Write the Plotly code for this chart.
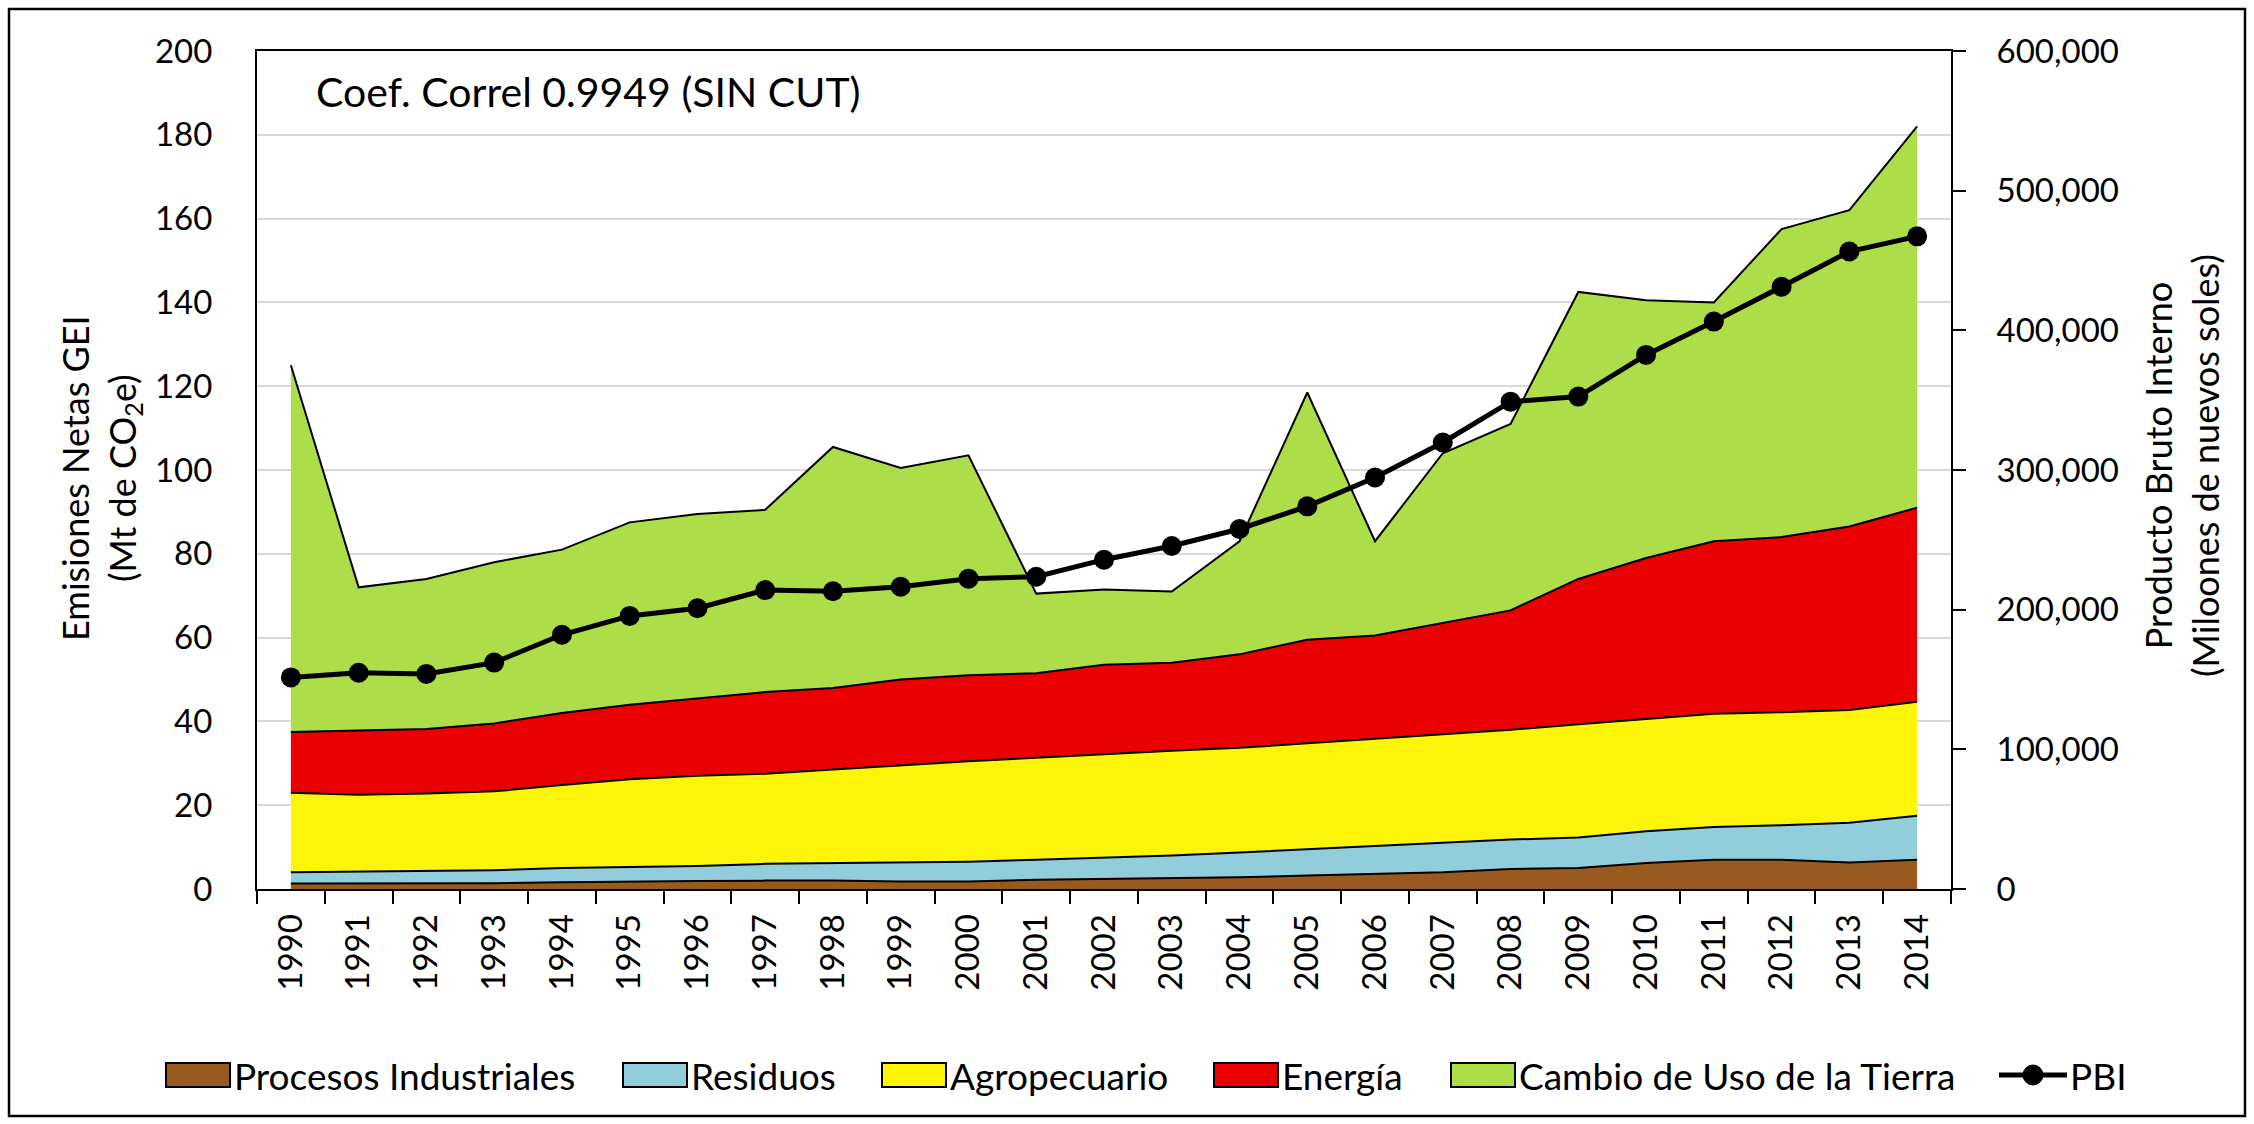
import plotly.graph_objects as go

years = [str(y) for y in range(1990, 2015)]

# emissions by sector (Mt CO2e), stacked
procesos = [1.3, 1.3, 1.3, 1.4, 1.6, 1.8, 1.9, 2.0, 2.0, 1.8, 1.8, 2.2, 2.4, 2.5, 2.8,
            3.2, 3.6, 4.0, 4.8, 5.0, 6.2, 7.0, 7.0, 6.3, 7.0]
residuos = [2.7, 2.9, 3.0, 3.1, 3.4, 3.5, 3.6, 4.0, 4.2, 4.5, 4.7, 4.8, 5.1, 5.5, 5.9,
            6.3, 6.7, 7.0, 7.0, 7.3, 7.6, 7.8, 8.2, 9.5, 10.5]
agropecuario = [19.0, 18.3, 18.5, 18.8, 19.8, 20.9, 21.5, 21.5, 22.3, 23.2, 24.0, 24.3, 24.7,
                25.0, 25.0, 25.3, 25.5, 26.0, 26.2, 27.0, 26.7, 27.0, 27.0, 26.9, 27.2]
energia = [14.5, 15.3, 15.4, 16.2, 17.2, 17.8, 18.5, 19.5, 19.5, 20.5, 20.5, 20.2, 21.3,
           21.0, 22.3, 24.7, 24.7, 26.5, 28.5, 34.7, 38.5, 41.2, 41.8, 43.8, 46.3]
cambio_uso = [87.5, 34.2, 35.8, 38.5, 39.0, 43.5, 44.0, 43.5, 57.5, 50.5, 52.5, 19.0, 18.0,
              17.0, 27.0, 59.0, 22.5, 40.5, 44.5, 68.5, 61.5, 57.0, 73.5, 75.5, 91.0]

# PBI (millones de nuevos soles)
pbi = [151492, 154854, 154017, 162093, 182044, 195536, 201009, 214028, 213190, 216377,
       222207, 223580, 235773, 245593, 257770, 273971, 294598, 319693, 348923, 352584,
       382380, 406256, 431199, 456435, 467308]

series_names = ["Procesos Industriales", "Residuos", "Agropecuario", "Energía",
                "Cambio de Uso de la Tierra"]
series_colors = ["#985A1E", "#92CDDC", "#FCF50A", "#EA0000", "#ADDD48"]
series_values = [procesos, residuos, agropecuario, energia, cambio_uso]

FONT = "Lato, 'Open Sans', sans-serif"
W, H = 2254, 1124
L, R, T, B = 257, 1951, 51, 889


def px(x):
    return (x - L) / (R - L)


def py(y):
    return (B - y) / (B - T)


fig = go.Figure()

for name, color, vals in zip(series_names, series_colors, series_values):
    fig.add_trace(go.Scatter(
        x=years, y=vals, name=name, mode="lines", stackgroup="one",
        fillcolor=color, line=dict(color="black", width=2), showlegend=False,
    ))

fig.add_trace(go.Scatter(
    x=years, y=pbi, name="PBI", mode="lines+markers", yaxis="y2",
    line=dict(color="black", width=5), marker=dict(color="black", size=20),
    showlegend=False,
))

shapes = []
annotations = []

# outer frame
shapes.append(dict(type="rect", xref="paper", yref="paper",
                   x0=px(9), x1=px(2245), y0=py(9), y1=py(1116),
                   line=dict(color="black", width=2.5), layer="below"))

# legend drawn by hand
leg_x = [166, 623, 882, 1214, 1451]
leg_y0, leg_y1, leg_yc = 1063, 1087, 1075
for name, color, x0 in zip(series_names, series_colors, leg_x):
    shapes.append(dict(type="rect", xref="paper", yref="paper",
                       x0=px(x0), x1=px(x0 + 64), y0=py(leg_y0), y1=py(leg_y1),
                       fillcolor=color, line=dict(color="black", width=2)))
    annotations.append(dict(xref="paper", yref="paper", x=px(x0 + 66), y=py(leg_yc),
                            text=name, showarrow=False, xanchor="left", yanchor="middle",
                            font=dict(family=FONT, size=37, color="black")))
shapes.append(dict(type="line", xref="paper", yref="paper",
                   x0=px(1999), x1=px(2067), y0=py(leg_yc), y1=py(leg_yc),
                   line=dict(color="black", width=5)))
shapes.append(dict(type="circle", xref="paper", yref="paper",
                   x0=px(2023), x1=px(2043), y0=py(1065), y1=py(1085),
                   fillcolor="black", line=dict(color="black", width=1)))
annotations.append(dict(xref="paper", yref="paper", x=px(2068), y=py(leg_yc),
                        text="PBI", showarrow=False, xanchor="left", yanchor="middle",
                        font=dict(family=FONT, size=37, color="black")))

annotations.append(dict(xref="paper", yref="paper", x=px(314), y=py(91),
                        text="Coef. Correl 0.9949 (SIN CUT)", showarrow=False,
                        xanchor="left", yanchor="middle",
                        font=dict(family=FONT, size=41, color="black")))

annotations.append(dict(xref="paper", yref="paper", x=px(100), y=py(478),
                        text="Emisiones Netas GEI<br>(Mt de CO<sub>2</sub>e)",
                        showarrow=False, textangle=-90, xanchor="center", yanchor="middle",
                        font=dict(family=FONT, size=36, color="black")))
annotations.append(dict(xref="paper", yref="paper", x=px(2181), y=py(466),
                        text="Producto Bruto Interno<br>(Miloones de nuevos soles)",
                        showarrow=False, textangle=-90, xanchor="center", yanchor="middle",
                        font=dict(family=FONT, size=36, color="black")))

fig.update_layout(
    width=W, height=H,
    margin=dict(l=L, r=W - R, t=T, b=H - B),
    paper_bgcolor="white", plot_bgcolor="white",
    font=dict(family=FONT, size=33, color="black"),
    showlegend=False,
    shapes=shapes,
    annotations=annotations,
    xaxis=dict(
        type="category", range=[-0.5, len(years) - 0.5], tickson="boundaries",
        ticks="outside", ticklen=13, tickwidth=2, tickcolor="black", tickangle=-90,
        showline=True, linecolor="black", linewidth=2, mirror=True, showgrid=False,
        ticklabelstandoff=10, tickfont=dict(size=33),
    ),
    yaxis=dict(
        range=[0, 200], dtick=20, showline=True, linecolor="black", linewidth=2,
        ticks="", showgrid=True, gridcolor="#d9d9d9", gridwidth=2, zeroline=False,
        ticklabelstandoff=36, tickfont=dict(size=33),
    ),
    yaxis2=dict(
        range=[0, 600000], dtick=100000, tickformat=",", overlaying="y", side="right",
        showline=True, linecolor="black", linewidth=2, ticks="outside", ticklen=13,
        tickwidth=2, tickcolor="black", showgrid=False, zeroline=False,
        ticklabelstandoff=24, tickfont=dict(size=33),
    ),
)

fig.write_html("out.html", config={"displayModeBar": False},
               post_script="document.body.style.margin='0';")
